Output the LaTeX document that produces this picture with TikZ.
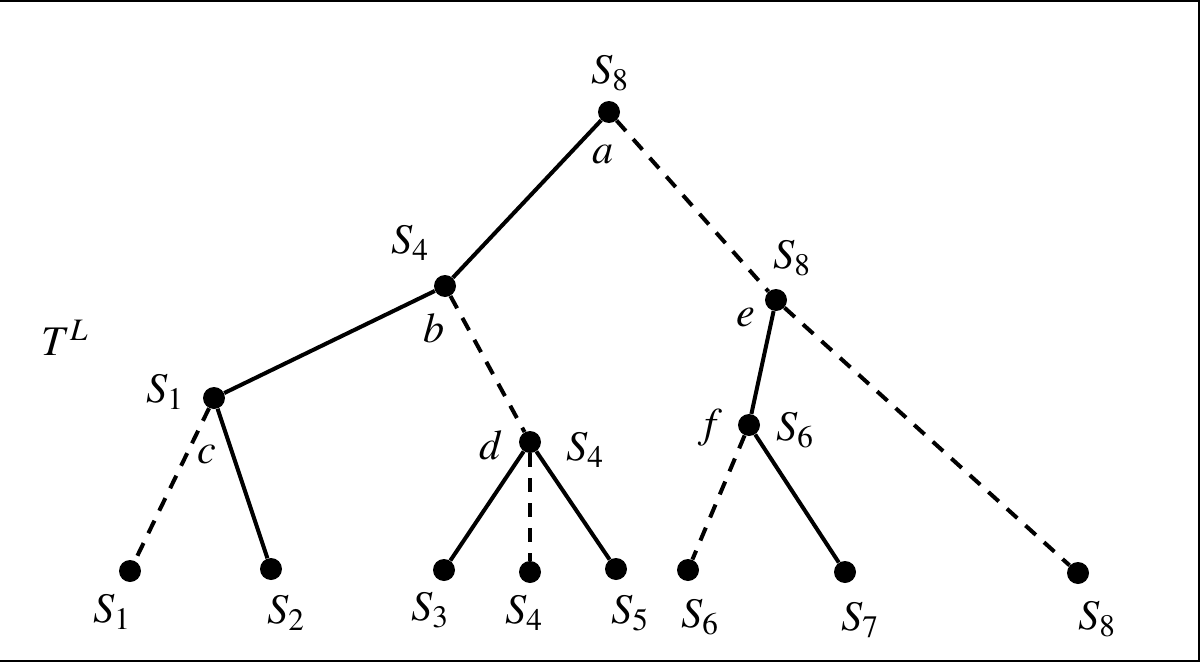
\documentclass[tikz,border=0pt]{standalone}
\usepackage{mathptmx}
\tikzset{
  knot/.style={circle,fill,inner sep=0pt,minimum size=0.44cm},
  branch/.style={line width=0.08cm},
  cut/.style={line width=0.08cm,dash pattern=on 0.28cm off 0.22cm}
}
\begin{document}
\begin{tikzpicture}[x=0.02cm,y=-0.02cm,font=\fontsize{24}{28}\selectfont]
\useasboundingbox (0,0) rectangle (1201,663);
\draw[line width=0.04cm] (0,1) -- (1199,1) -- (1199,661) -- (0,661);

\node[knot] (a) at (609,112) {};
\node[knot] (b) at (445,286) {};
\node[knot] (c) at (214,398) {};
\node[knot] (d) at (530,442) {};
\node[knot] (e) at (776,300) {};
\node[knot] (f) at (749,425) {};

\node[knot] (l1) at (130,571) {};
\node[knot] (l2) at (271,569) {};
\node[knot] (l3) at (444,570) {};
\node[knot] (l4) at (530,572) {};
\node[knot] (l5) at (616,569) {};
\node[knot] (l6) at (688,570) {};
\node[knot] (l7) at (845,572) {};
\node[knot] (l8) at (1078,573) {};

\draw[branch] (a) -- (b);
\draw[cut] (a) -- (e);
\draw[branch] (b) -- (c);
\draw[cut] (b) -- (d);
\draw[cut] (c) -- (l1);
\draw[branch] (c) -- (l2);
\draw[branch] (d) -- (l3);
\draw[cut] (d) -- (l4);
\draw[branch] (d) -- (l5);
\draw[branch] (e) -- (f);
\draw[cut] (e) -- (l8);
\draw[cut] (f) -- (l6);
\draw[branch] (f) -- (l7);

\node (ta) at (610,73) {$S_8$};
\node (la) at (603,155) {$a$};
\node (tb) at (410,243) {$S_4$};
\node (lb) at (434,328) {$b$};
\node (tc) at (165,392) {$S_1$};
\node (lc) at (207,455) {$c$};
\node (td) at (585,450) {$S_4$};
\node (ld) at (491,445) {$d$};
\node (te) at (792,258) {$S_8$};
\node (le) at (746,318) {$e$};
\node (tf) at (795,430) {$S_6$};
\node (lf) at (710,428) {$f$};

\node (s1) at (112,612) {$S_1$};
\node (s2) at (286,613) {$S_2$};
\node (s3) at (430,610) {$S_3$};
\node (s4) at (524,613) {$S_4$};
\node (s5) at (630,613) {$S_5$};
\node (s6) at (700,617) {$S_6$};
\node (s7) at (860,620) {$S_7$};
\node (s8) at (1097,619) {$S_8$};

\node (tl) at (65,338) {$T^L$};
\end{tikzpicture}
\end{document}
